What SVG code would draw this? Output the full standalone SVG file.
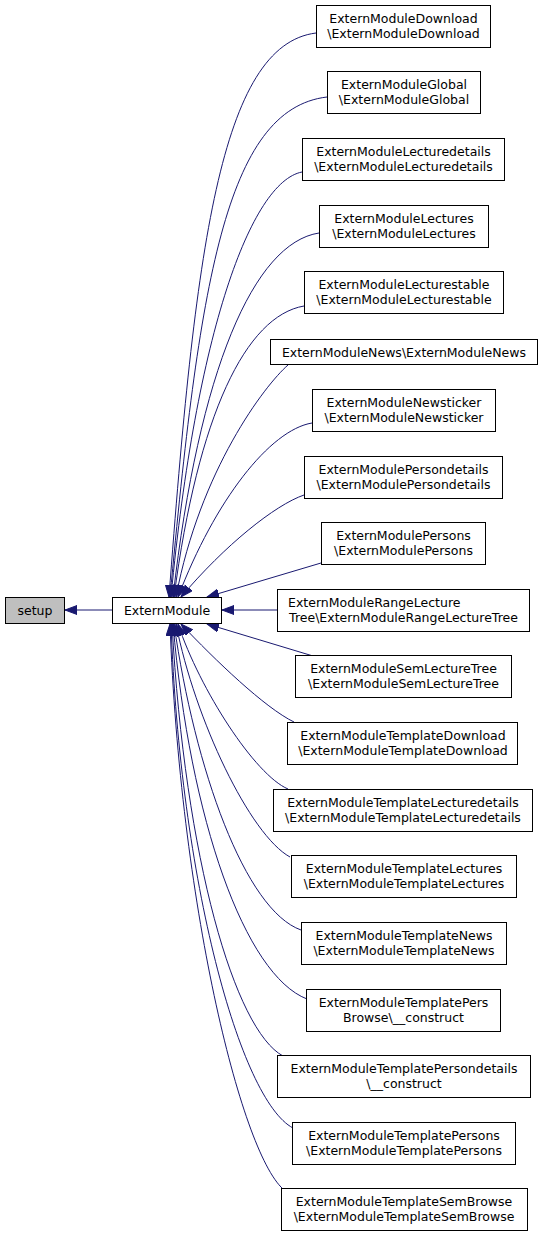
<svg xmlns="http://www.w3.org/2000/svg" width="544" height="1237" viewBox="0 0 544 1237">
<style>
rect.n{fill:#fff;stroke:#000;stroke-width:1}
rect.g{fill:#bfbfbf;stroke:#000;stroke-width:1}
text{font-family:"DejaVu Sans","Liberation Sans",sans-serif;font-size:12.5px;fill:#000;text-anchor:middle}
text.l{text-anchor:start}
.e{fill:none;stroke:#191970;stroke-width:1;marker-end:url(#arr)}
</style>
<defs>
<marker id="arr" markerWidth="14" markerHeight="12" refX="12" refY="4.5" orient="auto" markerUnits="userSpaceOnUse">
<path d="M0,0 L12,4.5 L0,9 z" fill="#191970" stroke="#191970" stroke-width="1"/>
</marker>
</defs>
<rect width="544" height="1237" fill="#fff"/>
<g id="edges">
<path class="e" d="M112,610 L65,610"/>
<path class="e" d="M316,33 C220,45 195,250 169,597"/>
<path class="e" d="M327,97 C225,109 199,286 170,597"/>
<path class="e" d="M302,172 C251,182 196,332 171,597"/>
<path class="e" d="M319,233 C254,243 199,369 173,597"/>
<path class="e" d="M304,306 C246,316 198,414 174,597"/>
<path class="e" d="M288,365 C265,385 200,470 176,597"/>
<path class="e" d="M312,423 C270,430 215,500 178,597"/>
<path class="e" d="M304,495 C275,505 225,545 181,597"/>
<path class="e" d="M321,563 L207,597"/>
<path class="e" d="M277,610 L222,610"/>
<path class="e" d="M313,656 L207,624"/>
<path class="e" d="M294,722 C265,708 215,660 181,624"/>
<path class="e" d="M288,789 C255,775 200,690 178,624"/>
<path class="e" d="M290,857 C250,835 195,720 176,624"/>
<path class="e" d="M301,930 C245,910 195,770 174,624"/>
<path class="e" d="M307,999 C245,975 190,820 173,624"/>
<path class="e" d="M283,1056 C235,1030 185,860 172,624"/>
<path class="e" d="M293,1128 C240,1100 180,880 171,624"/>
<path class="e" d="M283,1189 C240,1150 180,900 170,624"/>
</g>
<g id="setup"><rect class="g" x="5.5" y="597.5" width="59" height="26"/><text x="35" y="615">setup</text></g>
<g id="ExternModule"><rect class="n" x="112.5" y="597.5" width="109" height="26"/><text x="167" y="615">ExternModule</text></g>
<g id="n1"><rect class="n" x="316.5" y="5.5" width="174" height="42"/><text x="403.5" y="23">ExternModuleDownload</text><text x="403.5" y="38">\ExternModuleDownload</text></g>
<g id="n2"><rect class="n" x="327.5" y="71.5" width="153" height="42"/><text x="404" y="89">ExternModuleGlobal</text><text x="404" y="104">\ExternModuleGlobal</text></g>
<g id="n3"><rect class="n" x="302.5" y="138.5" width="202" height="42"/><text x="403.5" y="156">ExternModuleLecturedetails</text><text x="403.5" y="171">\ExternModuleLecturedetails</text></g>
<g id="n4"><rect class="n" x="319.5" y="205.5" width="169" height="42"/><text x="404" y="223">ExternModuleLectures</text><text x="404" y="238">\ExternModuleLectures</text></g>
<g id="n5"><rect class="n" x="304.5" y="271.5" width="199" height="42"/><text x="404" y="289">ExternModuleLecturestable</text><text x="404" y="304">\ExternModuleLecturestable</text></g>
<g id="n6"><rect class="n" x="270.5" y="339.5" width="267" height="25"/><text x="404" y="357">ExternModuleNews\ExternModuleNews</text></g>
<g id="n7"><rect class="n" x="312.5" y="389.5" width="183" height="42"/><text x="404" y="407">ExternModuleNewsticker</text><text x="404" y="422">\ExternModuleNewsticker</text></g>
<g id="n8"><rect class="n" x="304.5" y="456.5" width="198" height="42"/><text x="403.5" y="474">ExternModulePersondetails</text><text x="403.5" y="489">\ExternModulePersondetails</text></g>
<g id="n9"><rect class="n" x="321.5" y="522.5" width="164" height="42"/><text x="403.5" y="540">ExternModulePersons</text><text x="403.5" y="555">\ExternModulePersons</text></g>
<g id="n10"><rect class="n" x="277.5" y="589.5" width="252" height="42"/><text class="l" x="288" y="607">ExternModuleRangeLecture</text><text x="403.5" y="622">Tree\ExternModuleRangeLectureTree</text></g>
<g id="n11"><rect class="n" x="295.5" y="655.5" width="216" height="42"/><text x="403.5" y="673">ExternModuleSemLectureTree</text><text x="403.5" y="688">\ExternModuleSemLectureTree</text></g>
<g id="n12"><rect class="n" x="287.5" y="722.5" width="230" height="42"/><text x="403" y="740">ExternModuleTemplateDownload</text><text x="403" y="755">\ExternModuleTemplateDownload</text></g>
<g id="n13"><rect class="n" x="273.5" y="789.5" width="259" height="42"/><text x="403" y="807">ExternModuleTemplateLecturedetails</text><text x="403" y="822">\ExternModuleTemplateLecturedetails</text></g>
<g id="n14"><rect class="n" x="291.5" y="855.5" width="225" height="42"/><text x="404" y="873">ExternModuleTemplateLectures</text><text x="404" y="888">\ExternModuleTemplateLectures</text></g>
<g id="n15"><rect class="n" x="301.5" y="922.5" width="205" height="42"/><text x="404" y="940">ExternModuleTemplateNews</text><text x="404" y="955">\ExternModuleTemplateNews</text></g>
<g id="n16"><rect class="n" x="306.5" y="989.5" width="194" height="42"/><text x="403.5" y="1007">ExternModuleTemplatePers</text><text x="403.5" y="1022">Browse\__construct</text></g>
<g id="n17"><rect class="n" x="277.5" y="1055.5" width="253" height="42"/><text x="404" y="1073">ExternModuleTemplatePersondetails</text><text x="404" y="1088">\__construct</text></g>
<g id="n18"><rect class="n" x="292.5" y="1122.5" width="223" height="42"/><text x="404" y="1140">ExternModuleTemplatePersons</text><text x="404" y="1155">\ExternModuleTemplatePersons</text></g>
<g id="n19"><rect class="n" x="281.5" y="1188.5" width="246" height="42"/><text x="404" y="1206">ExternModuleTemplateSemBrowse</text><text x="404" y="1221">\ExternModuleTemplateSemBrowse</text></g>
</svg>
